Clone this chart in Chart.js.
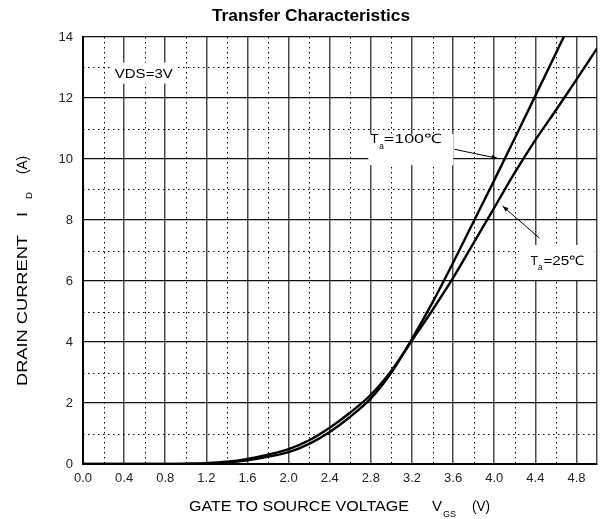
<!DOCTYPE html>
<html>
<head>
<meta charset="utf-8">
<script src="https://cdn.jsdelivr.net/npm/chart.js@4.4.1/dist/chart.umd.min.js"></script>
<style>
  html, body { margin: 0; padding: 0; background: #fff; }
  #wrap { width: 604px; height: 519px; position: relative; }
</style>
</head>
<body>
<div id="wrap"><canvas id="chart"></canvas></div>
<script>
// Gate-source voltage samples (V)
const vgs = [0.0, 0.2, 0.4, 0.6, 0.8, 1.0, 1.2, 1.4, 1.6, 1.8, 2.0, 2.2, 2.4,
             2.6, 2.8, 3.0, 3.2, 3.4, 3.6, 3.8, 4.0, 4.2, 4.4, 4.6, 4.8, 5.0];
// Drain current at Ta = 100 °C (A)
const id100 = [0, 0, 0, 0, 0, 0.005, 0.015, 0.045, 0.12, 0.24, 0.39, 0.66, 1.05,
               1.55, 2.15, 3.0, 4.1, 5.3, 6.6, 7.95, 9.3, 10.68, 12.07, 13.47, 14.87, null];
// Drain current at Ta = 25 °C (A)
const id25 = [0, 0, 0, 0, 0, 0.01, 0.03, 0.075, 0.17, 0.31, 0.49, 0.78, 1.19,
              1.69, 2.27, 3.06, 4.05, 5.05, 6.1, 7.25, 8.4, 9.55, 10.62, 11.6, 12.6, 13.63];

// Axis ticks
const xTickValues = [0.0, 0.4, 0.8, 1.2, 1.6, 2.0, 2.4, 2.8, 3.2, 3.6, 4.0, 4.4, 4.8, 5.0];
const xTickLabels = ['0.0', '0.4', '0.8', '1.2', '1.6', '2.0', '2.4', '2.8', '3.2', '3.6', '4.0', '4.4', '4.8', ''];
const yTickValues = [0, 2, 4, 6, 8, 10, 12, 14];
const yTickLabels = ['0', '2', '4', '6', '8', '10', '12', '14'];
// Dotted minor grid
const xMinorGrid = [0.2, 0.6, 1.0, 1.4, 1.8, 2.2, 2.6, 3.0, 3.4, 3.8, 4.2, 4.6];
const yMinorGrid = [1, 3, 5, 7, 9, 11, 13];

// Annotation anchors in data units [V, A]
const vdsNote = { text: 'VDS=3V', at: [0.309, 12.67] };
const note100 = { label: [2.795, 10.52], tail: [3.614, 10.318], head: [4.033, 10.023] };
const note25 = { label: [4.352, 6.54], tail: [4.439, 7.41], head: [4.081, 8.459] };

const FONT = "'Liberation Sans', Arial, Helvetica, sans-serif";

function stretchText(ctx, s, x, y, size, width, bold) {
  ctx.save();
  ctx.font = (bold ? 'bold ' : '') + size + 'px ' + FONT;
  const m = ctx.measureText(s).width;
  ctx.translate(x, y);
  if (width) ctx.scale(width / m, 1);
  ctx.fillText(s, 0, 0);
  ctx.restore();
}

function arrow(ctx, x1, y1, x2, y2) {
  ctx.save();
  ctx.strokeStyle = '#000';
  ctx.fillStyle = '#000';
  ctx.lineWidth = 1;
  ctx.beginPath();
  ctx.moveTo(x1, y1);
  ctx.lineTo(x2, y2);
  ctx.stroke();
  const a = Math.atan2(y2 - y1, x2 - x1);
  const L = 6, W = 2.2;
  ctx.beginPath();
  ctx.moveTo(x2, y2);
  ctx.lineTo(x2 - L * Math.cos(a) + W * Math.sin(a), y2 - L * Math.sin(a) - W * Math.cos(a));
  ctx.lineTo(x2 - L * Math.cos(a) - W * Math.sin(a), y2 - L * Math.sin(a) + W * Math.cos(a));
  ctx.closePath();
  ctx.fill();
  ctx.restore();
}

// Dotted minor grid, drawn after the solid grid and before the curves
const minorGrid = {
  id: 'minorGrid',
  beforeDatasetsDraw(chart) {
    const { ctx, chartArea: a, scales: { x, y } } = chart;
    ctx.save();
    ctx.strokeStyle = '#000';
    ctx.lineWidth = 1;
    ctx.setLineDash([1.5, 3.5]);
    xMinorGrid.forEach(v => {
      const px = Math.round(x.getPixelForValue(v)) + 0.5;
      ctx.beginPath(); ctx.moveTo(px, a.top); ctx.lineTo(px, a.bottom); ctx.stroke();
    });
    yMinorGrid.forEach(v => {
      const py = Math.round(y.getPixelForValue(v)) + 0.5;
      ctx.beginPath(); ctx.moveTo(a.left, py); ctx.lineTo(a.right, py); ctx.stroke();
    });
    ctx.restore();
  }
};

// Titles and notes
const texts = {
  id: 'texts',
  afterDatasetsDraw(chart) {
    const { ctx, scales: { x, y } } = chart;
    const P = p => [x.getPixelForValue(p[0]), y.getPixelForValue(p[1])];
    ctx.save();
    ctx.fillStyle = '#000';
    ctx.textBaseline = 'alphabetic';
    ctx.textAlign = 'left';

    // chart title
    stretchText(ctx, 'Transfer Characteristics', 212, 21, 16, 198, true);

    // x-axis title
    stretchText(ctx, 'GATE TO SOURCE VOLTAGE', 189, 511, 15, 220);
    stretchText(ctx, 'V', 432, 511, 15, 10);
    stretchText(ctx, 'GS', 443, 516.5, 9, 13);
    stretchText(ctx, '(V)', 472, 511, 15, 18);

    // y-axis title (rotated)
    ctx.save();
    ctx.translate(27, 0);
    ctx.rotate(-Math.PI / 2);
    stretchText(ctx, 'DRAIN CURRENT', -386, 0, 14, 151);
    stretchText(ctx, 'I', -217, 0, 14, 5);
    stretchText(ctx, 'D', -199, 4.5, 9, 7);
    stretchText(ctx, '(A)', -174, 0, 14, 18);
    ctx.restore();

    // VDS note
    const [vx, vy] = P(vdsNote.at);
    ctx.fillStyle = '#fff';
    ctx.fillRect(vx - 5, vy - 15, 66, 21);
    ctx.fillStyle = '#000';
    stretchText(ctx, vdsNote.text, vx, vy, 13, 58);

    // Ta = 100 note
    let [lx, ly] = P(note100.label);
    ctx.fillStyle = '#fff';
    ctx.fillRect(lx - 2, ly - 9, 85, 31);
    ctx.fillStyle = '#000';
    stretchText(ctx, 'T', lx, ly, 13, 8.5);
    stretchText(ctx, 'a', lx + 8.8, ly + 5.5, 9, 4.6);
    stretchText(ctx, '=100\u2103', lx + 13.5, ly, 13, 58);
    let [t1x, t1y] = P(note100.tail), [h1x, h1y] = P(note100.head);
    arrow(ctx, t1x, t1y, h1x, h1y);

    // Ta = 25 note
    [lx, ly] = P(note25.label);
    ctx.fillStyle = '#fff';
    ctx.fillRect(lx - 11, ly - 19.5, 75, 35);
    ctx.fillStyle = '#000';
    stretchText(ctx, 'T', lx, ly, 13, 7.5);
    stretchText(ctx, 'a', lx + 7.7, ly + 5.5, 9, 4.6);
    stretchText(ctx, '=25\u2103', lx + 13, ly, 13, 41);
    let [t2x, t2y] = P(note25.tail), [h2x, h2y] = P(note25.head);
    arrow(ctx, t2x, t2y, h2x, h2y);

    ctx.restore();
  }
};

const pts = arr => vgs.map((v, i) => ({ x: v, y: arr[i] }));

new Chart(document.getElementById('chart'), {
  type: 'line',
  data: {
    datasets: [
      { label: 'Ta=100\u2103', data: pts(id100), borderColor: '#000', borderWidth: 2.4,
        pointRadius: 0, cubicInterpolationMode: 'monotone', fill: false, spanGaps: false },
      { label: 'Ta=25\u2103', data: pts(id25), borderColor: '#000', borderWidth: 2.4,
        pointRadius: 0, cubicInterpolationMode: 'monotone', fill: false }
    ]
  },
  options: {
    responsive: true,
    maintainAspectRatio: false,
    animation: false,
    events: [],
    layout: { padding: { top: 37, right: 4, left: 0, bottom: 0 } },
    plugins: { legend: { display: false }, tooltip: { enabled: false }, title: { display: false } },
    scales: {
      x: {
        type: 'linear', min: 0, max: 5,
        afterBuildTicks: s => { s.ticks = xTickValues.map(v => ({ value: v })); },
        afterFit: s => { s.height = 55; },
        ticks: {
          autoSkip: false, maxRotation: 0, padding: 7, color: '#222',
          font: { family: FONT, size: 13 },
          callback: (v, i) => xTickLabels[i]
        },
        grid: { color: '#4a4a4a', lineWidth: 1.5, drawTicks: false },
        border: { display: true, color: '#000', width: 2 }
      },
      y: {
        type: 'linear', min: 0, max: 14,
        afterBuildTicks: s => { s.ticks = yTickValues.map(v => ({ value: v })); },
        afterFit: s => { s.width = 83; },
        ticks: {
          padding: 10, color: '#222',
          font: { family: FONT, size: 13 },
          callback: (v, i) => yTickLabels[i]
        },
        grid: { color: '#111', lineWidth: 1.2, drawTicks: false },
        border: { display: true, color: '#000', width: 2 }
      }
    }
  },
  plugins: [minorGrid, texts]
});
</script>
</body>
</html>
